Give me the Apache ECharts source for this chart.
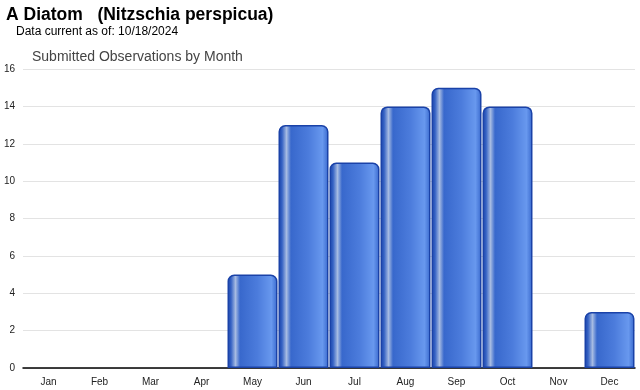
<!DOCTYPE html>
<html><head><meta charset="utf-8">
<script src="https://cdn.jsdelivr.net/npm/echarts@6/dist/echarts.min.js"></script>
<style>html,body{margin:0;padding:0;background:#fff}#c{width:640px;height:390px}</style>
</head><body><div id="c"></div>
<script>
const months = ['Jan','Feb','Mar','Apr','May','Jun','Jul','Aug','Sep','Oct','Nov','Dec'];
const observations = [0,0,0,0,5,13,11,14,15,14,0,3];
const titleText = 'A Diatom   (Nitzschia perspicua)';
const subText = 'Data current as of: 10/18/2024';
const chartTitle = 'Submitted Observations by Month';

const chart = echarts.init(document.getElementById('c'));
const grad = new echarts.graphic.LinearGradient(0,0,1,0,[
  {offset:0,color:'#1a42a8'},
  {offset:0.07,color:'#3562c4'},
  {offset:0.16,color:'#a6bbe2'},
  {offset:0.25,color:'#3868cc'},
  {offset:0.6,color:'#4c7cdc'},
  {offset:0.88,color:'#6898ee'},
  {offset:0.96,color:'#4878d8'},
  {offset:1,color:'#1a42a8'}
]);
chart.setOption({
  animation:false,
  title:[
    {text:titleText,left:1,top:1,textStyle:{fontFamily:'Liberation Sans, Arial',fontSize:17.5,fontWeight:'bold',color:'#000'}},
    {text:subText,left:11,top:21,textStyle:{fontFamily:'Liberation Sans, Arial',fontSize:12,fontWeight:'normal',color:'#000'}},
    {text:chartTitle,left:27,top:45,textStyle:{fontFamily:'Liberation Sans, Arial',fontSize:14,fontWeight:'normal',color:'#444'}}
  ],
  grid:{left:23,right:5,top:69,bottom:22,containLabel:false},
  xAxis:{type:'category',data:months,
    axisLine:{lineStyle:{color:'#000',width:1.5}},
    axisTick:{alignWithLabel:true,length:4,lineStyle:{color:'#ccc'}},
    axisLabel:{fontFamily:'Liberation Sans, Arial',fontSize:10,color:'#222',margin:9}},
  yAxis:{type:'value',min:0,max:16,interval:2,
    axisLine:{show:false},axisTick:{show:false},
    axisLabel:{fontFamily:'Liberation Sans, Arial',fontSize:10,color:'#222',margin:8},
    splitLine:{lineStyle:{color:'#e3e3e3'}}},
  series:[{type:'bar',data:observations.map(v => v === 0 ? '-' : v),barCategoryGap:'2%',
    itemStyle:{color:grad,borderColor:'#1a42a8',borderWidth:1.5,borderRadius:[6,6,0,0]}}]
});
</script></body></html>
